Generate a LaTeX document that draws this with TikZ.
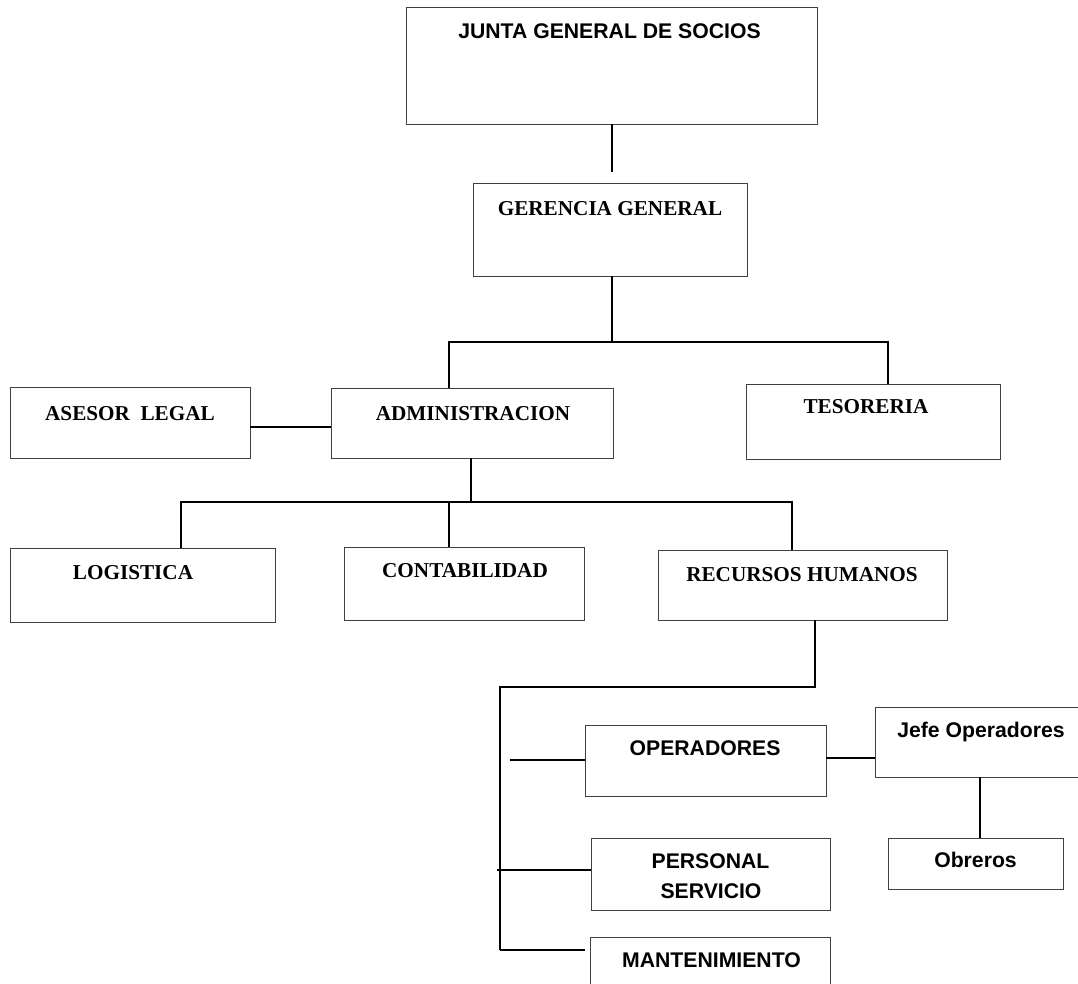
\documentclass[tikz,border=0pt]{standalone}
\usepackage{fontspec}
\setmainfont{Liberation Serif}
\newfontfamily\arialf{Liberation Sans}
\begin{document}
\begin{tikzpicture}[x=1pt,y=-1pt,
 box/.style={draw=black!75, line width=0.9pt, inner sep=0pt},
 conn/.style={draw=black, line width=1.8pt},
 tnr/.style={anchor=base, inner sep=0pt, font=\fontsize{21.2}{25}\selectfont\bfseries},
 ari/.style={anchor=base, inner sep=0pt, font=\fontsize{21.2}{25}\selectfont\arialf\bfseries}]
\useasboundingbox (0,0) rectangle (1078,983);
% boxes
\node[box, minimum width=411pt, minimum height=117pt] (junta) at (611.5,65.5) {};
\node[box, minimum width=274pt, minimum height=93pt] (ger) at (610,229.5) {};
\node[box, minimum width=240pt, minimum height=71pt] (asesor) at (130,422.5) {};
\node[box, minimum width=282pt, minimum height=70pt] (admin) at (472,423) {};
\node[box, minimum width=254pt, minimum height=75pt] (teso) at (873,421.5) {};
\node[box, minimum width=265pt, minimum height=74pt] (logis) at (142.5,585) {};
\node[box, minimum width=240pt, minimum height=73pt] (conta) at (464,583.5) {};
\node[box, minimum width=289pt, minimum height=70pt] (rh) at (802.5,585) {};
\node[box, minimum width=241pt, minimum height=71pt] (oper) at (705.5,760.5) {};
\node[box, minimum width=207pt, minimum height=70pt] (jefe) at (978.5,742) {};
\node[box, minimum width=175pt, minimum height=51pt] (obreros) at (975.5,863.5) {};
\node[box, minimum width=239pt, minimum height=72pt] (pers) at (710.5,874) {};
\node[box, minimum width=240pt, minimum height=58pt] (mant) at (710,966) {};
% texts
\node[ari] (junta-t) at (609.5,38) {JUNTA GENERAL DE SOCIOS};
\node[tnr] (ger-t) at (610,215) {GERENCIA GENERAL};
\node[tnr] (asesor-t) at (130,420) {ASESOR\ \ LEGAL};
\node[tnr] (admin-t) at (473,420) {ADMINISTRACION};
\node[tnr] (teso-t) at (866,413) {TESORERIA};
\node[tnr] (logis-t) at (133,579) {LOGISTICA};
\node[tnr] (conta-t) at (465,577) {CONTABILIDAD};
\node[tnr] (rh-t) at (802,581) {RECURSOS HUMANOS};
\node[ari] (oper-t) at (705,755) {OPERADORES};
\node[ari] (jefe-t) at (981,737) {Jefe Operadores};
\node[ari] (obreros-t) at (975.5,867) {Obreros};
\node[ari] (pers-t1) at (710.5,868) {PERSONAL};
\node[ari] (pers-t2) at (711,898) {SERVICIO};
\node[ari] (mant-t) at (711.5,967) {MANTENIMIENTO};
% connectors
\coordinate (j1) at (612,172);
\draw[conn] (junta.south -| j1) -- (j1);
\coordinate (b1) at (612,342);
\coordinate (b1l) at (449,342);
\coordinate (b1r) at (888,342);
\draw[conn] (ger.south -| b1) -- (b1);
\draw[conn] (admin.north -| b1l) -- (b1l) -- (b1r) -- (teso.north -| b1r);
\coordinate (a1) at (0,427);
\draw[conn] (asesor.east |- a1) -- (admin.west |- a1);
\coordinate (b2) at (471,502);
\coordinate (b2l) at (181,502);
\coordinate (b2c) at (449,502);
\coordinate (b2r) at (792,502);
\draw[conn] (admin.south -| b2) -- (b2);
\draw[conn] (logis.north -| b2l) -- (b2l) -- (b2r) -- (rh.north -| b2r);
\draw[conn] (b2c) -- (conta.north -| b2c);
\coordinate (b3) at (815,687);
\coordinate (b3l) at (500,687);
\coordinate (b3b) at (500,950);
\draw[conn] (rh.south -| b3) -- (b3) -- (b3l) -- (b3b);
\coordinate (s1) at (510,760);
\draw[conn] (s1) -- (oper.west |- s1);
\coordinate (s2) at (497,870);
\draw[conn] (s2) -- (pers.west |- s2);
\draw[conn] (b3b) -- ([xshift=-5pt]mant.west |- b3b);
\coordinate (s3) at (0,758);
\draw[conn] (oper.east |- s3) -- (jefe.west |- s3);
\coordinate (jo) at (980,0);
\draw[conn] (jefe.south -| jo) -- (obreros.north -| jo);
\end{tikzpicture}
\end{document}
